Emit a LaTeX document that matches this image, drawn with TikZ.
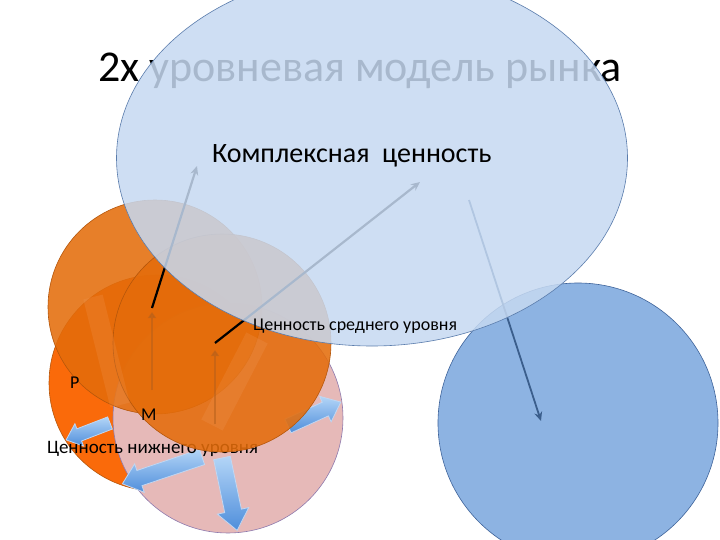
\documentclass[tikz,border=0pt]{standalone}
\usepackage{fontspec}
\setmainfont{Carlito}
\usetikzlibrary{shapes.geometric,arrows.meta}
\definecolor{ellfill}{HTML}{C6D9F1}
\definecolor{elldraw}{HTML}{5A7CAC}
\definecolor{bluefill}{HTML}{8DB3E2}
\definecolor{bluedraw}{HTML}{3E639A}
\definecolor{brightorange}{HTML}{FA6A0A}
\definecolor{midorange}{HTML}{E46C0A}
\definecolor{orangedraw}{HTML}{B5560A}
\definecolor{pinkfill}{HTML}{E6B9B8}
\definecolor{pinkdraw}{HTML}{8E7AAE}
\definecolor{arrowlight}{HTML}{B3D5F7}
\definecolor{arrowdark}{HTML}{4F8EDB}
\definecolor{brownline}{HTML}{B5601C}
\definecolor{steel}{HTML}{3B5E8C}
\definecolor{bandcol}{HTML}{F2A36A}
\tikzset{
  disc/.style={circle, inner sep=0pt, outer sep=0pt, minimum size=#1, line width=0.6pt},
  blockfill/.style={top color=arrowlight, bottom color=arrowdark,
    draw=white!65!arrowdark, line width=0.8pt, line join=miter},
  blackline/.style={line width=2.2pt, black, -{Stealth[length=9pt,width=8pt]}},
  brownarrow/.style={line width=2.4pt, brownline, opacity=0.55, -{Triangle[length=6pt,width=8pt]}},
  band/.style={line width=#1, bandcol, opacity=0.18},
  lbl/.style={anchor=base west, inner sep=0pt, outer sep=0pt, text=black}
}
% tail point, angle, length, shaft half width, head half width, head length
\newcommand\blockarr[6]{%
  \begin{scope}[shift={#1}, rotate=#2]
    \path[blockfill] (0,-#4) -- (#3-#6,-#4) -- (#3-#6,-#5) -- (#3,0)
      -- (#3-#6,#5) -- (#3-#6,#4) -- (0,#4) -- cycle;
  \end{scope}}
\begin{document}
\begin{tikzpicture}[x=1pt,y=-1pt]
\useasboundingbox[fill=white] (0,0) rectangle (720,540);
% title (under the ellipse)
\node[lbl, font=\fontsize{44}{48}\selectfont] (title) at (98,82) {2х уровневая модель рынка};
% right blue circle
\node[disc=280pt, fill=bluefill, draw=bluedraw] (E) at (578,423) {};
\coordinate (s3) at (469,200);
\coordinate (e3) at (541,421);
\draw[line width=1.8pt, steel, -{Stealth[length=9pt,width=8pt]}] (s3) -- (e3);
% lower-level circles
\node[disc=216pt, fill=brightorange, draw=orangedraw] (C) at (157,383) {};
\node[disc=230pt, fill=pinkfill, draw=pinkdraw] (D) at (228,418) {};
% blue block arrows
\blockarr{(288,426)}{24.4}{58}{7.5}{14}{17}
\blockarr{(110,423)}{201.1}{47}{6.5}{12}{14}
\blockarr{(202,457)}{198.6}{84}{8}{15}{18}
\blockarr{(222,458)}{-78.2}{74}{8.5}{16}{20}
\node[lbl, font=\fontsize{19}{22}\selectfont] (low) at (47,453) {Ценность нижнего уровня};
% middle-level circles
\node[disc=214pt, fill=midorange, fill opacity=0.87, draw=orangedraw] (A) at (155,307) {};
\node[disc=218pt, fill=midorange, fill opacity=0.87, draw=orangedraw] (B) at (222,343) {};
% faint bands
\coordinate (f1s) at (120,405);
\coordinate (f1e) at (93,297);
\coordinate (f2s) at (212,425);
\coordinate (f2e) at (257,338);
\draw[band=20pt] (f1s) -- (f1e);
\draw[band=24pt] (f2s) -- (f2e);
% brown thin arrows
\coordinate (o1s) at (152,390);
\coordinate (o1e) at (152,312);
\coordinate (o2s) at (215,424);
\coordinate (o2e) at (215,350);
\draw[brownarrow] (o1s) -- (o1e);
\draw[brownarrow] (o2s) -- (o2e);
\node[lbl, font=\fontsize{18}{20}\selectfont] (P) at (70,388) {Р};
\node[lbl, font=\fontsize{18}{20}\selectfont] (M) at (141,420) {М};
% black connectors to the complex value
\coordinate (s1) at (152,308);
\coordinate (e1) at (197,166);
\coordinate (s2) at (215,343);
\coordinate (e2) at (420,182);
\draw[blackline] (s1) -- (e1);
\draw[blackline] (s2) -- (e2);
% big ellipse
\node[ellipse, inner sep=0pt, outer sep=0pt, minimum width=511pt, minimum height=376pt,
      fill=ellfill, fill opacity=0.85, draw=elldraw, line width=0.6pt] (ell) at (372,158) {};
\node[lbl, font=\fontsize{28}{32}\selectfont] (cv) at (212,163) {Комплексная\ \ ценность};
\node[lbl, font=\fontsize{18}{21}\selectfont] (mid) at (253,330) {Ценность среднего уровня};
\end{tikzpicture}
\end{document}
